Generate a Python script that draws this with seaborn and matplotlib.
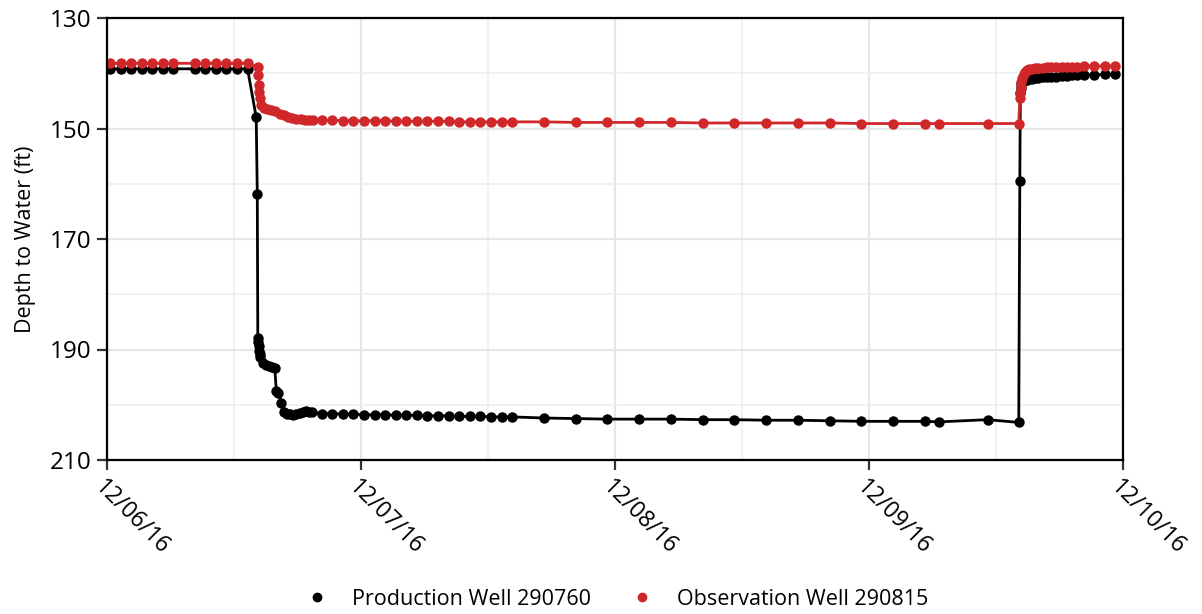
import matplotlib
matplotlib.use("Agg")
import matplotlib.pyplot as plt
import matplotlib.dates as mdates
from matplotlib.lines import Line2D
from matplotlib.ticker import FixedLocator
import numpy as np
import pandas as pd
import seaborn as sns

# ---- data -------------------------------------------------------------
start = pd.Timestamp("2016-12-06 00:00")

# Production well 290760: elapsed hours since start and depth to water (ft)
prod_hours = [
    0.28, 1.28, 2.28, 3.28, 4.28, 5.28, 6.28, 8.28, 9.28, 10.28, 11.28, 12.28, 13.28,
    14.1, 14.2, 14.25, 14.3, 14.35, 14.4, 14.45, 14.5, 14.7, 15.0, 15.3, 15.6, 15.85,
    16.0, 16.2, 16.45, 16.7, 17.0, 17.3, 17.6, 17.9, 18.2, 18.5, 18.8, 19.1, 19.4,
    20.28, 21.28, 22.28, 23.28, 24.28, 25.28, 26.28, 27.28, 28.28, 29.28, 30.28,
    31.28, 32.28, 33.28, 34.28, 35.28, 36.28, 37.28, 38.28,
    41.28, 44.28, 47.28, 50.28, 53.28, 56.28, 59.28, 62.28, 65.28, 68.28, 71.28,
    74.28, 77.28, 78.6, 83.2, 86.15,
    86.25, 86.3, 86.35, 86.4, 86.5, 86.6, 86.75, 86.9, 87.1, 87.4, 87.7, 88.0,
    88.4, 88.8, 89.2, 89.7, 90.2, 90.7, 91.2, 91.7, 92.28, 93.28, 94.28, 95.28,
]
prod_depth = [
    139.2, 139.2, 139.2, 139.2, 139.2, 139.2, 139.2, 139.2, 139.2, 139.2, 139.2, 139.2, 139.2,
    148.0, 161.8, 188.0, 188.6, 189.4, 190.2, 190.8, 191.3, 192.4, 192.8, 193.0, 193.1, 193.3,
    197.5, 197.8, 199.6, 201.3, 201.6, 201.7, 201.8, 201.7, 201.5, 201.3, 201.2, 201.3, 201.4,
    201.6, 201.6, 201.7, 201.7, 201.8, 201.8, 201.8, 201.9, 201.9, 201.9, 202.0,
    202.0, 202.0, 202.1, 202.1, 202.1, 202.2, 202.2, 202.2,
    202.4, 202.5, 202.6, 202.6, 202.6, 202.7, 202.7, 202.8, 202.8, 202.9, 203.0,
    203.0, 203.0, 203.1, 202.7, 203.2,
    159.5, 143.5, 142.6, 142.0, 141.6, 141.4, 141.3, 141.2, 141.1, 141.0, 140.9, 140.8,
    140.7, 140.7, 140.6, 140.6, 140.5, 140.5, 140.4, 140.4, 140.3, 140.3, 140.2, 140.2,
]

# Observation well 290815
obs_hours = [
    0.28, 1.28, 2.28, 3.28, 4.28, 5.28, 6.28, 8.28, 9.28, 10.28, 11.28, 12.28, 13.28,
    14.25, 14.3, 14.35, 14.4, 14.45, 14.55, 14.8, 15.1, 15.5, 15.9, 16.3, 16.7,
    17.1, 17.5, 17.9, 18.3, 18.7, 19.1, 19.5,
    20.28, 21.28, 22.28, 23.28, 24.28, 25.28, 26.28, 27.28, 28.28, 29.28, 30.28,
    31.28, 32.28, 33.28, 34.28, 35.28, 36.28, 37.28, 38.28,
    41.28, 44.28, 47.28, 50.28, 53.28, 56.28, 59.28, 62.28, 65.28, 68.28, 71.28,
    74.28, 77.28, 78.6, 83.2, 86.15,
    86.25, 86.3, 86.35, 86.4, 86.5, 86.6, 86.75, 86.9, 87.1, 87.4, 87.7, 88.0,
    88.4, 88.8, 89.2, 89.7, 90.2, 90.7, 91.2, 91.7, 92.28, 93.28, 94.28, 95.28,
]
obs_depth = [
    138.2, 138.2, 138.2, 138.2, 138.2, 138.2, 138.2, 138.2, 138.2, 138.2, 138.2, 138.2, 138.2,
    138.9, 140.3, 142.1, 143.4, 144.5, 145.8, 146.2, 146.4, 146.7, 146.9, 147.3, 147.6,
    147.9, 148.1, 148.2, 148.3, 148.4, 148.5, 148.5,
    148.5, 148.5, 148.6, 148.6, 148.6, 148.6, 148.6, 148.7, 148.7, 148.7, 148.7,
    148.7, 148.7, 148.8, 148.8, 148.8, 148.8, 148.8, 148.8,
    148.8, 148.9, 148.9, 148.9, 148.9, 149.0, 149.0, 149.0, 149.0, 149.0, 149.1,
    149.1, 149.1, 149.1, 149.1, 149.1,
    144.5, 143.5, 142.5, 141.6, 140.8, 140.2, 139.8, 139.5, 139.3, 139.2, 139.1, 139.0,
    139.0, 138.9, 138.9, 138.9, 138.8, 138.8, 138.8, 138.8, 138.7, 138.7, 138.7, 138.7,
]

series_names = ["Production Well 290760", "Observation Well 290815"]
series_colors = ["#000000", "#d0282a"]
depth_ticks = [130, 150, 170, 190, 210]
depth_grid = [140, 160, 180, 200]

# ---- long-form table ------------------------------------------------------
frames = []
for name, hrs, dep in [(series_names[0], prod_hours, prod_depth),
                       (series_names[1], obs_hours, obs_depth)]:
    frames.append(pd.DataFrame({
        "time": start + pd.to_timedelta(np.asarray(hrs), unit="h"),
        "depth": dep,
        "well": name,
    }))
df = pd.concat(frames, ignore_index=True)

# ---- style --------------------------------------------------------------
sns.set_theme(style="white")
plt.rcParams["font.family"] = ["Open Sans", "DejaVu Sans"]
plt.rcParams["text.color"] = "black"
plt.rcParams["axes.labelcolor"] = "black"
plt.rcParams["xtick.color"] = "black"
plt.rcParams["ytick.color"] = "black"

fig = plt.figure(figsize=(12.02, 6.14), dpi=100)
ax = fig.add_axes([107 / 1202, 1 - 460 / 614, (1123 - 107) / 1202, (460 - 18) / 614])

sns.lineplot(
    data=df, x="time", y="depth", hue="well", hue_order=series_names,
    palette=dict(zip(series_names, series_colors)),
    marker="o", markersize=7.5, markeredgewidth=0, linewidth=2,
    estimator=None, sort=False, legend=False, ax=ax,
)

# axes limits and ticks
ax.set_xlim(pd.Timestamp("2016-12-06"), pd.Timestamp("2016-12-10"))
ax.set_ylim(210, 130)
ax.yaxis.set_major_locator(FixedLocator(depth_ticks))
ax.yaxis.set_minor_locator(FixedLocator(depth_grid))
ax.xaxis.set_major_locator(mdates.DayLocator())
ax.xaxis.set_minor_locator(mdates.HourLocator(byhour=[12]))
ax.xaxis.set_major_formatter(mdates.DateFormatter("%m/%d/%y"))

ax.grid(True, which="major", color="#e6e6e6", linewidth=1.6)
ax.grid(True, which="minor", color="#ededed", linewidth=1.1)
ax.set_axisbelow(True)

for side in ["left", "right", "top", "bottom"]:
    ax.spines[side].set_visible(True)
    ax.spines[side].set_color("black")
    ax.spines[side].set_linewidth(1.6)

ax.tick_params(axis="both", which="major", direction="out", length=7, width=1.6,
               color="#333333", pad=4, left=True, bottom=True)
ax.tick_params(axis="y", which="major", labelsize=17.5)
ax.tick_params(axis="x", which="major", labelsize=16.5)
ax.tick_params(axis="both", which="minor", length=0)

for lbl in ax.get_xticklabels():
    lbl.set_rotation(-45)
    lbl.set_ha("left")
    lbl.set_va("top")
    lbl.set_rotation_mode("anchor")

ax.set_xlabel("")
ax.set_ylabel("Depth to Water (ft)", fontsize=15.5, labelpad=10)

# legend with marker-only entries
handles = [Line2D([], [], marker="o", linestyle="none", color=c, markersize=6)
           for c in series_colors]
fig.legend(handles, series_names, loc="lower center", bbox_to_anchor=(0.509, -0.025),
           ncol=2, frameon=False, fontsize=15.5, handletextpad=0.6, columnspacing=1.4)

fig.savefig("out.png", dpi=100)
